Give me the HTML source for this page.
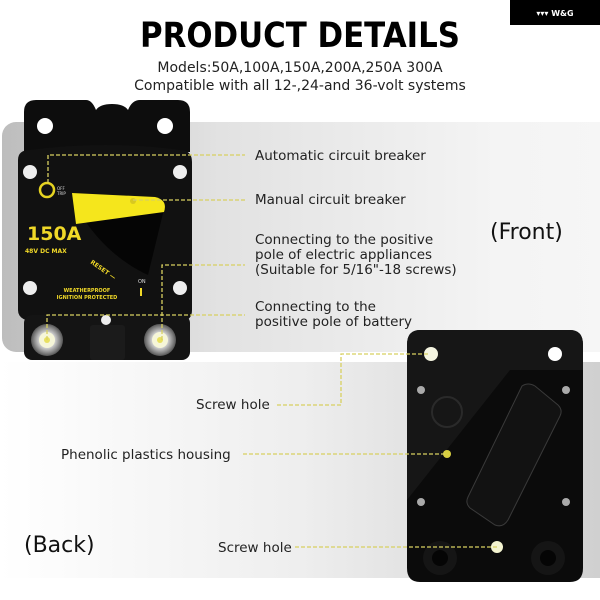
<!DOCTYPE html>
<html><head><meta charset="utf-8"><style>
html,body{margin:0;padding:0;background:#fff;}
svg{display:block;}
text{font-family:"DejaVu Sans","Liberation Sans",sans-serif;}
</style></head><body>
<svg width="600" height="600" viewBox="0 0 600 600" xmlns="http://www.w3.org/2000/svg">
<defs>
<linearGradient id="b1" x1="0" x2="1" y1="0" y2="0">
<stop offset="0" stop-color="#bdbdbd"/><stop offset="0.35" stop-color="#e2e2e2"/><stop offset="0.8" stop-color="#f4f4f4"/><stop offset="1" stop-color="#f6f6f6"/>
</linearGradient>
<linearGradient id="b2" x1="0" x2="1" y1="0" y2="0">
<stop offset="0" stop-color="#ffffff"/><stop offset="0.5" stop-color="#eeeeee"/><stop offset="1" stop-color="#d0d0d0"/>
</linearGradient>
<radialGradient id="nut"><stop offset="0" stop-color="#fff"/><stop offset="0.5" stop-color="#cfcfcf"/><stop offset="0.8" stop-color="#888"/><stop offset="1" stop-color="#555"/></radialGradient>
</defs>
<rect width="600" height="600" fill="#fff"/>
<rect x="2" y="122" width="620" height="230" rx="14" fill="url(#b1)"/>
<rect x="0" y="362" width="600" height="216" fill="url(#b2)"/>
<rect x="510" y="0" width="90" height="25" fill="#000"/>
<text x="555" y="16" font-size="8" font-weight="bold" fill="#fff" text-anchor="middle">▾▾▾ W&amp;G</text>
<text x="300" y="47" font-size="35" font-weight="bold" text-anchor="middle" fill="#000" textLength="320" lengthAdjust="spacingAndGlyphs">PRODUCT DETAILS</text>
<text x="300" y="72" font-size="14" text-anchor="middle" fill="#222">Models:50A,100A,150A,200A,250A 300A</text>
<text x="300" y="90" font-size="14" text-anchor="middle" fill="#222">Compatible with all 12-,24-and 36-volt systems</text>
<!-- front device -->
<path d="M24 112 Q24 100 36 100 L86 100 Q92 100 96 110 Q100 104 112 104 Q124 104 128 110 Q132 100 140 100 L178 100 Q190 100 190 112 L190 152 L24 152 Z" fill="#0d0d0d"/>
<circle cx="45" cy="126" r="8" fill="#fff"/><circle cx="165" cy="126" r="8" fill="#fff"/>
<path d="M18 160 Q18 150 30 150 Q105 140 180 150 Q192 150 192 162 L192 310 Q192 320 182 322 L40 322 Q18 322 18 310 Z" fill="#111"/>
<rect x="24" y="315" width="166" height="45" rx="8" fill="#141414"/>
<rect x="90" y="325" width="35" height="35" rx="3" fill="#1b1b1b"/>
<circle cx="106" cy="320" r="5" fill="#eee"/>
<circle cx="30" cy="172" r="7" fill="#eee"/><circle cx="180" cy="172" r="7" fill="#eee"/>
<circle cx="30" cy="288" r="7" fill="#eee"/><circle cx="180" cy="288" r="7" fill="#eee"/>
<path d="M72 195 L165 205 L148 275 Q105 255 78 210 Z" fill="#050505"/>
<path d="M72 193 L155 197 Q168 200 164 212 L76 224 Z" fill="#f5e61c"/>
<circle cx="133" cy="201" r="3" fill="#d8c820"/>
<circle cx="47" cy="190" r="7" fill="none" stroke="#e5d321" stroke-width="2.5"/>
<text x="57" y="190" font-size="4" fill="#ddd">OFF</text><text x="57" y="195" font-size="4" fill="#ddd">TRIP</text>
<text x="27" y="240" font-size="19" font-weight="bold" fill="#f0d828">150A</text>
<text x="25" y="253" font-size="6" font-weight="bold" fill="#f0d828">48V DC MAX</text>
<text x="90" y="263" font-size="6" font-weight="bold" fill="#f0d828" transform="rotate(35 90 263)">RESET —</text>
<text x="138" y="283" font-size="5" fill="#ddd">ON</text>
<rect x="140" y="288" width="2" height="8" fill="#f0d828"/>
<text x="87" y="292" font-size="5" font-weight="bold" fill="#f0d828" text-anchor="middle">WEATHERPROOF</text>
<text x="87" y="299" font-size="5" font-weight="bold" fill="#f0d828" text-anchor="middle">IGNITION PROTECTED</text>
<circle cx="47" cy="340" r="16" fill="url(#nut)"/><circle cx="47" cy="340" r="8" fill="#f6f6d8"/><circle cx="47" cy="340" r="3" fill="#e8e060"/>
<circle cx="160" cy="340" r="16" fill="url(#nut)"/><circle cx="160" cy="340" r="8" fill="#f6f6d8"/><circle cx="160" cy="340" r="3" fill="#e8e060"/>
<!-- back device -->
<path d="M420 330 L570 330 Q583 330 583 345 L583 568 Q583 582 570 582 L420 582 Q407 582 407 568 L407 345 Q407 330 420 330 Z" fill="#0b0b0b"/>
<path d="M407 500 L510 370 L583 370 L583 345 Q583 330 570 330 L420 330 Q407 330 407 345 Z" fill="#161616"/>
<circle cx="431" cy="354" r="7" fill="#f4f4e0"/><circle cx="555" cy="354" r="7" fill="#fff"/>
<circle cx="421" cy="390" r="4" fill="#aaa"/><circle cx="566" cy="390" r="4" fill="#aaa"/>
<circle cx="421" cy="502" r="4" fill="#aaa"/><circle cx="566" cy="502" r="4" fill="#aaa"/>
<circle cx="447" cy="412" r="15" fill="none" stroke="#2a2a2a" stroke-width="2"/>
<path d="M522 386 Q528 382 535 386 L558 405 Q563 410 560 416 L508 520 Q503 528 495 525 L470 508 Q465 503 468 497 Z" fill="#121212" stroke="#3a3a3a" stroke-width="1"/>
<circle cx="440" cy="558" r="17" fill="#151515"/><circle cx="440" cy="558" r="8" fill="#050505"/>
<circle cx="548" cy="558" r="17" fill="#151515"/><circle cx="548" cy="558" r="8" fill="#050505"/>
<circle cx="497" cy="547" r="6" fill="#f4f4d0"/>
<circle cx="447" cy="454" r="4" fill="#d8cf40"/>
<g stroke="#d8d060" stroke-width="1.3" stroke-dasharray="4 2" fill="none">
<path d="M48 183 L48 155 L245 155"/>
<path d="M133 200 L245 200"/>
<path d="M162 340 L162 265 L245 265"/>
<path d="M47 340 L47 315 L245 315"/>
<path d="M277 405 L341 405 L341 354 L430 354"/>
<path d="M243 454 L447 454"/>
<path d="M295 547 L497 547"/>
</g>
<g font-size="13.5" fill="#222">
<text x="255" y="160">Automatic circuit breaker</text>
<text x="255" y="204">Manual circuit breaker</text>
<text x="255" y="244">Connecting to the positive</text>
<text x="255" y="259">pole of electric appliances</text>
<text x="255" y="274">(Suitable for 5/16"-18 screws)</text>
<text x="255" y="311">Connecting to the</text>
<text x="255" y="326">positive pole of battery</text>
<text x="196" y="409">Screw hole</text>
<text x="61" y="459">Phenolic plastics housing</text>
<text x="218" y="552">Screw hole</text>
</g>
<text x="490" y="239" font-size="22" fill="#111">(Front)</text>
<text x="24" y="552" font-size="22" fill="#111">(Back)</text>
</svg>
</body></html>
